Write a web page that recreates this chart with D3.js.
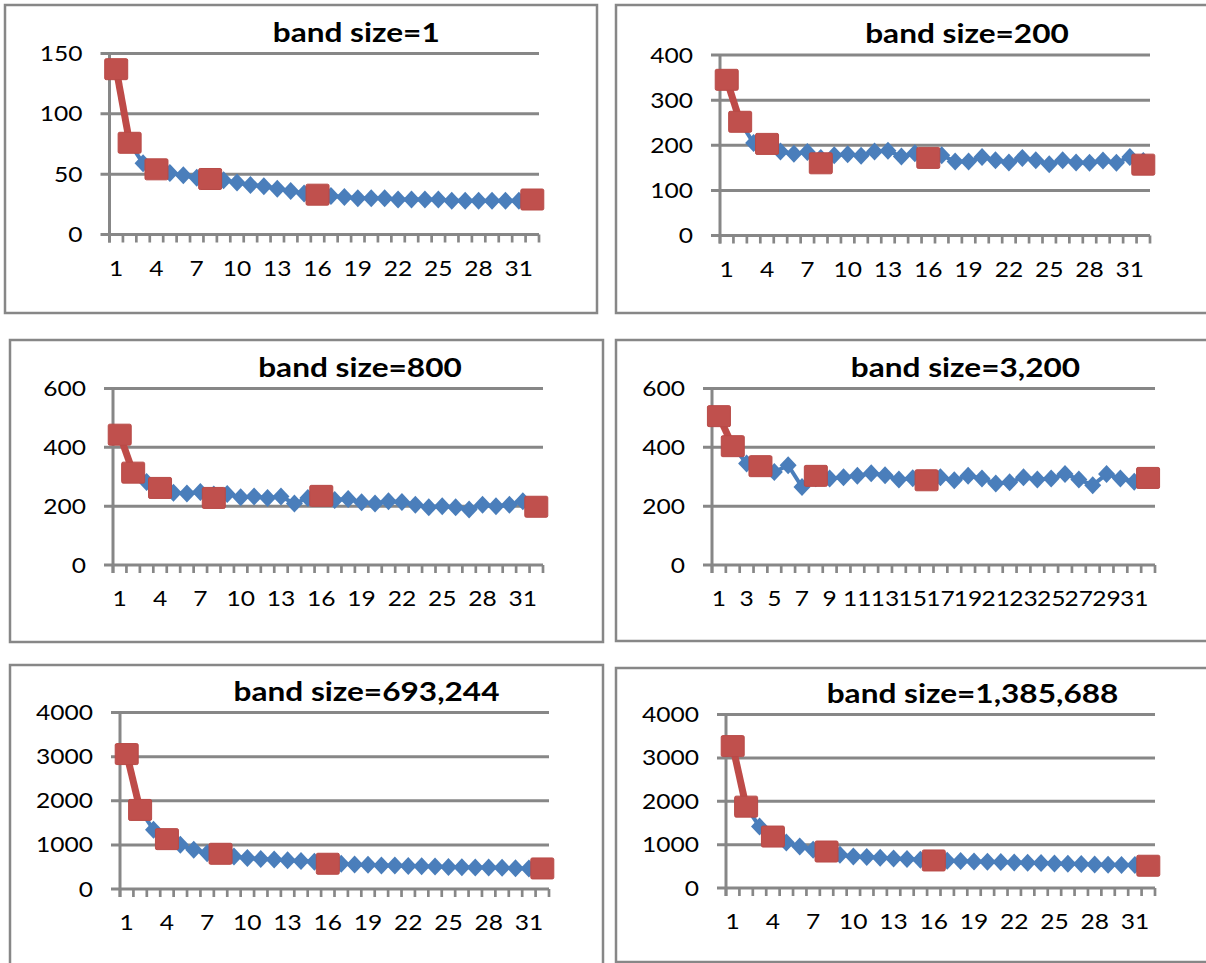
<!DOCTYPE html>
<html lang="en">
<head>
<meta charset="UTF-8">
<title>band size panels</title>
<script src="https://d3js.org/d3.v7.min.js"></script>
<style>
    body { margin: 0; background: #fff; }
    text { font-family: Lato, "Open Sans", sans-serif; fill: #000; }
    .title { font-weight: bold; font-size: 27px; }
    .tick-label { font-size: 21px; }
</style>
</head>
<body>
<script>
    // categories on the x axis (1..32) and the points that get the red squares
    var categories = [1, 2, 3, 4, 5, 6, 7, 8, 9, 10, 11, 12, 13, 14, 15, 16,
        17, 18, 19, 20, 21, 22, 23, 24, 25, 26, 27, 28, 29, 30, 31, 32];
    var redCats = [1, 2, 4, 8, 16, 32];

    var titles = ["band size=1", "band size=200", "band size=800",
        "band size=3,200", "band size=693,244", "band size=1,385,688"];

    // y tick labels per panel
    var yTicks1 = [0, 50, 100, 150];
    var yTicks2 = [0, 100, 200, 300, 400];
    var yTicks3 = [0, 200, 400, 600];
    var yTicks4 = [0, 200, 400, 600];
    var yTicks5 = [0, 1000, 2000, 3000, 4000];
    var yTicks6 = [0, 1000, 2000, 3000, 4000];

    // blue series (all 32 points)
    var blue1 = [137, 76, 59, 54, 51, 49, 47, 46, 45, 43, 41, 40, 38, 36, 34, 33,
        32, 31, 30, 30, 30, 29, 29, 29, 29, 28, 28, 28, 28, 28, 28, 29];
    var blue2 = [345, 252, 205, 203, 186, 181, 185, 172, 178, 180, 177, 186, 188, 175, 182, 175,
        178, 164, 164, 174, 167, 162, 172, 167, 158, 167, 162, 161, 166, 161, 174, 165];
    var blue3 = [443, 314, 282, 262, 246, 243, 248, 240, 241, 230, 233, 228, 233, 209, 228, 230,
        221, 224, 213, 209, 217, 214, 205, 196, 200, 196, 189, 205, 200, 205, 217, 200];
    var blue4 = [506, 404, 345, 336, 316, 339, 265, 295, 294, 298, 303, 312, 305, 291, 295, 290,
        298, 288, 303, 294, 277, 281, 298, 291, 294, 309, 291, 271, 309, 294, 283, 296];
    var blue5 = [3058, 1792, 1345, 1130, 1001, 888, 813, 790, 737, 700, 680, 666, 650, 635, 620, 600,
        572, 555, 550, 535, 530, 520, 515, 510, 500, 495, 490, 485, 480, 470, 465, 466];
    var blue6 = [3271, 1876, 1416, 1186, 1048, 956, 880, 841, 765, 727, 712, 696, 681, 666, 650, 635,
        627, 620, 612, 605, 597, 590, 582, 574, 566, 558, 551, 543, 535, 528, 528, 513];

    // red series (at x = 1, 2, 4, 8, 16, 32)
    var red1 = [137, 76, 54, 46, 33, 29];
    var red2 = [345, 252, 203, 160, 172, 157];
    var red3 = [443, 314, 262, 228, 235, 198];
    var red4 = [506, 404, 336, 303, 288, 296];
    var red5 = [3058, 1792, 1130, 798, 572, 466];
    var red6 = [3271, 1876, 1186, 841, 635, 513];

    // layout of each panel: frame box and plot area
    var panels = [
        { blue: blue1, red: red1, ticks: yTicks1, step: 3,
          frame: [5, 5, 597, 313], plot: { left: 109.5, right: 539, top: 53.5, bottom: 234.5 } },
        { blue: blue2, red: red2, ticks: yTicks2, step: 3,
          frame: [616, 5, 1212, 313], plot: { left: 720, right: 1150, top: 55, bottom: 235.5 } },
        { blue: blue3, red: red3, ticks: yTicks3, step: 3,
          frame: [10, 340, 603, 642], plot: { left: 113, right: 543, top: 388.5, bottom: 565 } },
        { blue: blue4, red: red4, ticks: yTicks4, step: 2,
          frame: [616, 340, 1212, 641], plot: { left: 712, right: 1155, top: 388.5, bottom: 565 } },
        { blue: blue5, red: red5, ticks: yTicks5, step: 3,
          frame: [10, 665, 603, 975], plot: { left: 120, right: 549, top: 712.5, bottom: 889 } },
        { blue: blue6, red: red6, ticks: yTicks6, step: 3,
          frame: [616, 668, 1212, 962], plot: { left: 726, right: 1155, top: 714.5, bottom: 888 } }
    ];

    var gray = "#878787";
    var blueColor = "#4a7ebb";
    var redColor = "#be4b48";
    var stretch = 1.17;   // text in the picture is a bit wider than tall

    var svg = d3.select("body").append("svg")
        .attr("width", 1206)
        .attr("height", 963);

    function label(g, x, y, str, cls, anchor) {
        g.append("g")
            .attr("transform", "translate(" + x + "," + y + ") scale(" + stretch + ",1)")
            .append("text")
            .attr("class", cls)
            .attr("text-anchor", anchor)
            .text(str);
    }

    panels.forEach(function (p, i) {
        var g = svg.append("g");
        var f = p.frame;

        // frame
        g.append("rect")
            .attr("x", f[0]).attr("y", f[1])
            .attr("width", f[2] - f[0]).attr("height", f[3] - f[1])
            .attr("fill", "none")
            .attr("stroke", gray)
            .attr("stroke-width", 2.5);

        var x = d3.scaleBand().domain(categories).range([p.plot.left, p.plot.right]).padding(0);
        var y = d3.scaleLinear().domain([0, d3.max(p.ticks)]).range([p.plot.bottom, p.plot.top]);
        var cx = function (c) { return x(c) + x.bandwidth() / 2; };

        // gridlines (with the small tick to the left of the axis)
        g.selectAll(".grid").data(p.ticks).enter().append("line")
            .attr("x1", p.plot.left - 9).attr("x2", p.plot.right)
            .attr("y1", function (d) { return y(d); })
            .attr("y2", function (d) { return y(d); })
            .attr("stroke", gray).attr("stroke-width", 3);

        // y axis line
        g.append("line")
            .attr("x1", p.plot.left).attr("x2", p.plot.left)
            .attr("y1", p.plot.top).attr("y2", p.plot.bottom + 8)
            .attr("stroke", gray).attr("stroke-width", 3);

        // x tick marks at category boundaries
        var bounds = categories.map(function (c) { return x(c); }).concat([p.plot.right]);
        g.selectAll(".xt").data(bounds).enter().append("line")
            .attr("x1", function (d) { return d; }).attr("x2", function (d) { return d; })
            .attr("y1", p.plot.bottom).attr("y2", p.plot.bottom + 8)
            .attr("stroke", gray).attr("stroke-width", 2.7);

        // y labels
        p.ticks.forEach(function (t) {
            label(g, p.plot.left - 27, y(t) + 7.5, t, "tick-label", "end");
        });

        // x labels
        categories.forEach(function (c, k) {
            if (k % p.step === 0) label(g, cx(c), p.plot.bottom + 41, c, "tick-label", "middle");
        });

        // title
        label(g, (p.plot.left + p.plot.right) / 2 + 32, p.plot.top - 12, titles[i], "title", "middle");

        // blue series
        var blueLine = d3.line()
            .x(function (d, k) { return cx(categories[k]); })
            .y(function (d) { return y(d); });
        g.append("path").datum(p.blue)
            .attr("d", blueLine)
            .attr("fill", "none")
            .attr("stroke", blueColor)
            .attr("stroke-width", 4);
        g.selectAll(".dia").data(p.blue).enter().append("path")
            .attr("d", "M0,-9L8.5,0L0,9L-8.5,0Z")
            .attr("transform", function (d, k) { return "translate(" + cx(categories[k]) + "," + y(d) + ")"; })
            .attr("fill", blueColor);

        // red series: values only at redCats, gaps elsewhere, so the line
        // is drawn only between neighbouring categories (1 and 2)
        var redFull = categories.map(function (c) {
            var k = redCats.indexOf(c);
            return k < 0 ? null : p.red[k];
        });
        var redLine = d3.line()
            .defined(function (d) { return d !== null; })
            .x(function (d, k) { return cx(categories[k]); })
            .y(function (d) { return y(d); });
        g.append("path").datum(redFull)
            .attr("d", redLine)
            .attr("fill", "none")
            .attr("stroke", redColor)
            .attr("stroke-width", 7);
        g.selectAll(".sq").data(p.red).enter().append("rect")
            .attr("x", function (d, k) { return cx(redCats[k]) - 11.5; })
            .attr("y", function (d) { return y(d) - 10.5; })
            .attr("width", 23).attr("height", 21)
            .attr("rx", 1.5)
            .attr("fill", "#c0504d")
            .attr("stroke", "#b84a47")
            .attr("stroke-width", 1);
    });
</script>
</body>
</html>
